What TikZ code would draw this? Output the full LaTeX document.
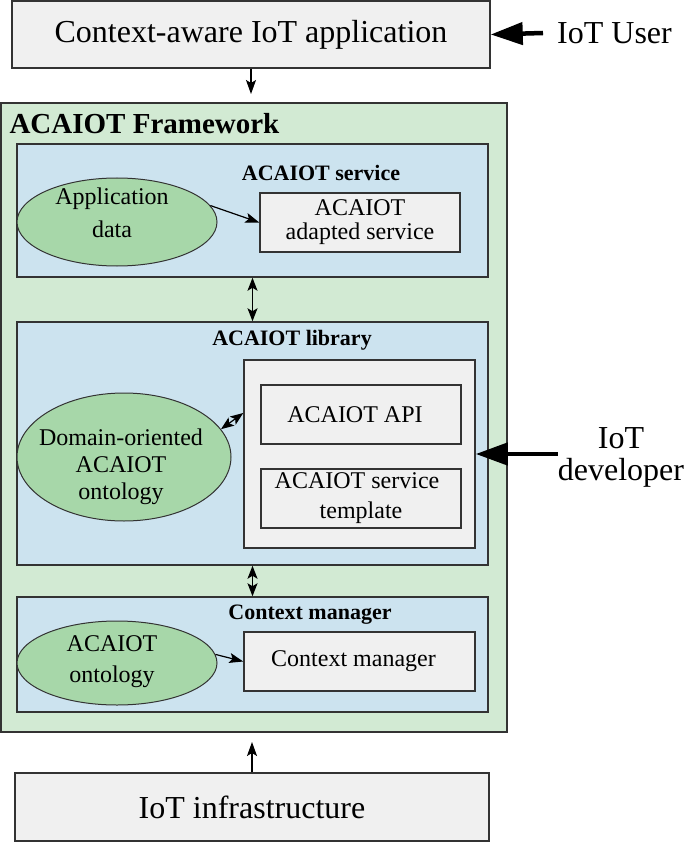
\documentclass[tikz,border=0pt]{standalone}
\usepackage{fontspec}
\setmainfont{Liberation Serif}
\usetikzlibrary{shapes.geometric}
\usetikzlibrary{arrows.meta}

\definecolor{fwgreen}{HTML}{D2EAD3}
\definecolor{layerblue}{HTML}{CCE3EF}
\definecolor{ontogreen}{HTML}{A7D7A9}
\definecolor{boxgray}{HTML}{F0F0F0}
\definecolor{edgegray}{HTML}{333333}

\begin{document}
\begin{tikzpicture}[
                x=1pt, y=-1pt,
                graybox/.style={draw=edgegray, line width=1.5pt, fill=boxgray, inner sep=0pt, align=center},
                layer/.style={draw=edgegray, line width=1.5pt, fill=layerblue, inner sep=0pt},
                onto/.style={ellipse, draw=edgegray, line width=1pt, fill=ontogreen, inner sep=0pt},
                bigtext/.style={font=\fontsize{32}{32}\selectfont},
                smalltext/.style={font=\fontsize{24}{27}\selectfont, align=center},
                layertitle/.style={font=\fontsize{22}{22}\selectfont\bfseries},
                thinarrow/.style={-{Stealth[length=14pt, width=10pt, inset=3pt]}, line width=1.2pt},
                twoarrow/.style={{Stealth[length=13pt, width=10pt, inset=3pt]}-{Stealth[length=13pt, width=10pt, inset=3pt]}, line width=1.2pt},
                bigarrow/.style={-{Triangle[length=32pt, width=22pt]}, line width=4.5pt} ]

            \useasboundingbox (0,0) rectangle (685,842);

            % outer boxes
            \node[graybox, bigtext, minimum width=478pt, minimum height=67pt] (app) at (251,34.5) {Context-aware IoT application};
            \node[bigtext, anchor=west, inner xsep=14pt] (user) at (543,33) {IoT User};
            \node[graybox, bigtext, minimum width=474pt, minimum height=68pt] (infra) at (252,807) {IoT infrastructure};

            \node[draw=edgegray, line width=2pt, fill=fwgreen, minimum width=506pt, minimum height=629pt, inner sep=0pt] (fw) at (254,417.5) {};
            \node[anchor=west, font=\fontsize{29}{29}\selectfont\bfseries] (fwtitle) at (6,124) {ACAIOT Framework};

            % layers
            \node[layer, minimum width=471pt, minimum height=133pt] (svc) at (252.5,210.5) {};
            \node[layer, minimum width=471pt, minimum height=243pt] (lib) at (252.5,443.5) {};
            \node[layer, minimum width=471pt, minimum height=115pt] (ctx) at (252.5,654.5) {};

            \node[layertitle] (svctitle) at (321,173) {ACAIOT service};
            \node[layertitle] (libtitle) at (292,340) {ACAIOT library};
            \node[layertitle] (ctxtitle) at (310,615) {Context manager};

            % service layer
            \node[onto, minimum width=200pt, minimum height=88pt] (appdata) at (117,222) {};
            \node[smalltext, font=\fontsize{24}{33}\selectfont] (appdatatext) at (112,213) {Application\\data};
            \node[graybox, smalltext, font=\fontsize{24}{24}\selectfont, minimum width=200pt, minimum height=59pt] (adapted) at (360,222.5) {ACAIOT\\adapted service};

            % library layer
            \node[onto, minimum width=214pt, minimum height=128pt] (domain) at (124,457) {};
            \node[smalltext] (domaintext) at (121,467) {Domain-oriented\\ACAIOT\\ontology};
            \node[graybox, minimum width=231pt, minimum height=188pt] (libin) at (359.5,454) {};
            \node[graybox, smalltext, minimum width=200pt, minimum height=59pt] (api) at (361,414.5) {ACAIOT API\hspace*{12pt}};
            \node[graybox, smalltext, font=\fontsize{24}{30}\selectfont, minimum width=200pt, minimum height=59pt] (tmpl) at (361,498.5) {ACAIOT service\hspace*{8pt}\\template};
            \node[bigtext, align=center, inner xsep=0pt] (dev) at (621,457) {IoT\\developer};

            % context layer
            \node[onto, minimum width=200pt, minimum height=84pt] (onto) at (117,663) {};
            \node[smalltext, font=\fontsize{24}{31}\selectfont] (ontotext) at (112,662) {ACAIOT\\ontology};
            \node[graybox, smalltext, minimum width=231pt, minimum height=59pt] (ctxmgr) at (359.5,661.5) {Context manager\hspace*{12pt}};

            % connectors
            \draw[bigarrow] (user.west) -- (app.east);
            \draw[bigarrow] (dev.west |- libin.east) -- (libin.east);
            \draw[thinarrow, shorten >=8pt] (app.south) -- (app.south |- fw.north);
            \draw[thinarrow, shorten >=9pt] (infra.north) -- (infra.north |- fw.south);
            \draw[twoarrow] (svc.south) -- (lib.north);
            \draw[twoarrow] (lib.south) -- (ctx.north);
            \draw[thinarrow] (appdata.10) -- (adapted.west);
            \draw[twoarrow] (domain.16) -- ([yshift=41pt]libin.west);
            \draw[thinarrow] (onto.5) -- (ctxmgr.west);
        \end{tikzpicture}
\end{document}
